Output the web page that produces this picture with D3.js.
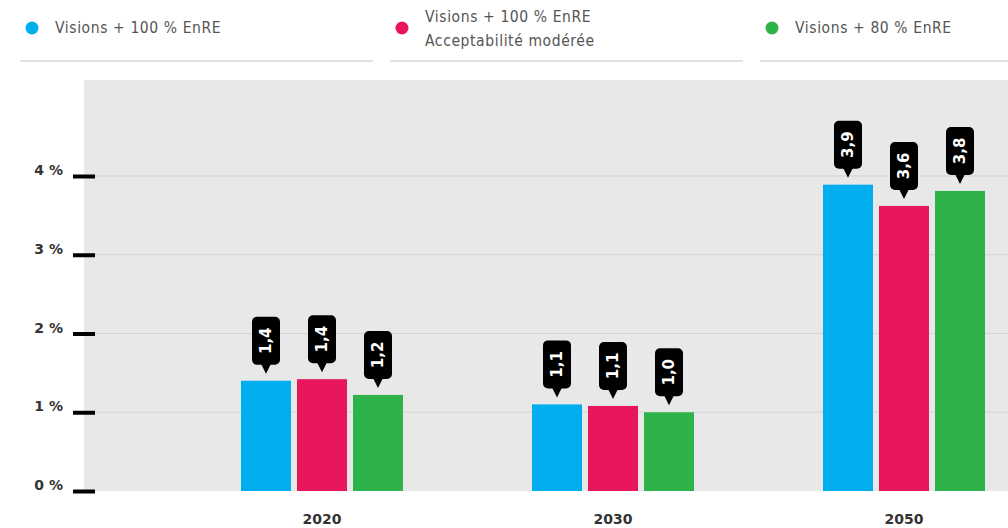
<!DOCTYPE html>
<html>
<head>
<meta charset="utf-8">
<script src="https://cdn.jsdelivr.net/npm/d3@7"></script>
<style>
  body { margin: 0; background: #fff; }
  svg { display: block; font-family: "DejaVu Sans Condensed", "DejaVu Sans", sans-serif; }
</style>
</head>
<body>
<div id="chart"></div>
<script>
// chart data
const years = ["2020", "2030", "2050"];
const series = ["Visions + 100 % EnRE", "Visions + 100 % EnRE Acceptabilité modérée", "Visions + 80 % EnRE"];
const legendLines = [["Visions + 100 % EnRE"], ["Visions + 100 % EnRE", "Acceptabilité modérée"], ["Visions + 80 % EnRE"]];
const colors = ["#00aeef", "#e8175d", "#2db34a"];
const values = [
    [1.40, 1.42, 1.22],   // 2020
    [1.10, 1.08, 1.00],   // 2030
    [3.89, 3.62, 3.81]    // 2050
];
const yTicks = [0, 1, 2, 3, 4];

const width = 1008, height = 528;
const plotLeft = 84, plotTop = 80, plotBottom = 491;

const svg = d3.select("#chart").append("svg")
    .attr("width", width)
    .attr("height", height);

// legend
const legendX = [20, 390, 760];
const legendW = [353, 353, 260];
legendLines.forEach((lines, i) => {
    let g = svg.append("g").attr("transform", `translate(${legendX[i]},0)`);
    g.append("circle")
        .attr("cx", 12).attr("cy", 28).attr("r", 6.5)
        .attr("fill", colors[i]);
    lines.forEach((t, j) => {
        let yy = lines.length == 1 ? 28 : 17 + j * 24;
        g.append("text")
            .attr("x", 35).attr("y", yy)
            .attr("dy", "0.35em")
            .attr("font-size", 15.5)
            .attr("letter-spacing", 0.6)
            .attr("fill", "#555")
            .text(t);
    });
    g.append("line")
        .attr("x1", 0).attr("x2", legendW[i])
        .attr("y1", 61).attr("y2", 61)
        .attr("stroke", "#e2e2e2").attr("stroke-width", 2);
});

// scales
const y = d3.scaleLinear()
    .domain([0, 5.2])
    .range([plotBottom, plotBottom - 5.2 * 78.75]);

const x0 = d3.scaleBand()
    .domain(years)
    .range([176.5, 1049.5])
    .padding(0);

const x1 = d3.scaleBand()
    .domain(series)
    .range([-84, 84])
    .paddingInner(0.107)
    .paddingOuter(0.0535);

// plot background
svg.append("rect")
    .attr("x", plotLeft).attr("y", plotTop)
    .attr("width", width - plotLeft).attr("height", plotBottom - plotTop)
    .attr("fill", "#e8e8e8");

// grid lines
svg.append("g")
    .selectAll("line")
    .data(yTicks.filter(d => d > 0))
    .join("line")
    .attr("x1", plotLeft).attr("x2", width)
    .attr("y1", d => y(d)).attr("y2", d => y(d))
    .attr("stroke", "#d4d4d4").attr("stroke-width", 1);

// y axis
const yAxis = svg.append("g")
    .attr("transform", `translate(${plotLeft + 11},0)`)
    .call(d3.axisLeft(y).tickValues(yTicks).tickSize(22).tickPadding(10)
        .tickFormat(d => d + " %"));
yAxis.select(".domain").remove();
yAxis.selectAll(".tick line").attr("stroke", "#000").attr("stroke-width", 4);
yAxis.selectAll(".tick text")
    .attr("font-size", 14)
    .attr("font-weight", "bold")
    .attr("fill", "#333")
    .attr("dy", "-0.1em")
    .attr("font-family", "'DejaVu Sans', sans-serif");

// x axis labels
svg.append("g")
    .selectAll("text")
    .data(years)
    .join("text")
    .attr("x", d => x0(d) + x0.bandwidth() / 2)
    .attr("y", 519)
    .attr("dy", "0.35em")
    .attr("text-anchor", "middle")
    .attr("font-size", 14)
    .attr("font-weight", "bold")
    .attr("font-family", "'DejaVu Sans', sans-serif")
    .attr("fill", "#333")
    .text(d => d);

// bars + callouts
const fmt = v => d3.format(".1f")(v).replace(".", ",");
years.forEach((yr, gi) => {
    let g = svg.append("g").attr("transform", `translate(${x0(yr) + x0.bandwidth() / 2},0)`);
    series.forEach((s, si) => {
        let v = values[gi][si];
        let bx = x1(s);
        let bw = x1.bandwidth();
        g.append("rect")
            .attr("x", bx).attr("y", y(v))
            .attr("width", bw).attr("height", y(0) - y(v))
            .attr("fill", colors[si]);

        let cx = bx + bw / 2;
        let tip = y(v) - 7;
        let boxH = 48, boxW = 28, triH = 9;
        let boxBottom = tip - triH;
        let boxTop = boxBottom - boxH;
        g.append("rect")
            .attr("x", cx - boxW / 2).attr("y", boxTop)
            .attr("width", boxW).attr("height", boxH)
            .attr("rx", 5).attr("fill", "#000");
        g.append("path")
            .attr("d", `M${cx - 5},${boxBottom - 1}L${cx + 5},${boxBottom - 1}L${cx},${tip}Z`)
            .attr("fill", "#000");
        g.append("text")
            .attr("transform", `translate(${cx},${boxTop + boxH / 2}) rotate(-90)`)
            .attr("text-anchor", "middle")
            .attr("dy", "0.35em")
            .attr("font-size", 15)
            .attr("font-weight", "bold")
            .attr("font-family", "'DejaVu Sans', sans-serif")
            .attr("fill", "#fff")
            .text(fmt(v));
    });
});
</script>
</body>
</html>
